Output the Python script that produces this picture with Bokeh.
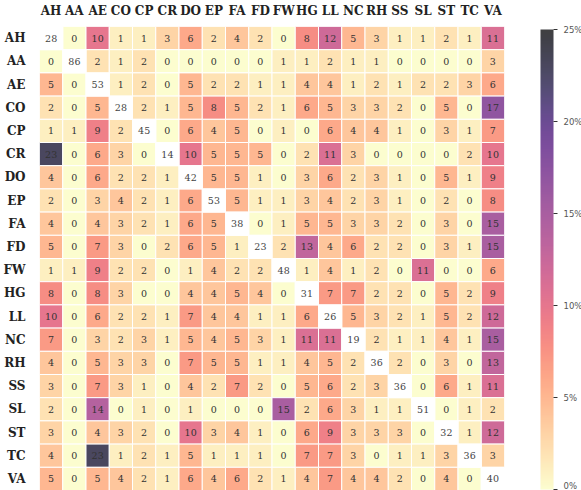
from bokeh.plotting import figure
from bokeh.models import ColumnDataSource, LinearColorMapper, ColorBar, FixedTicker, PrintfTickFormatter
from bokeh.palettes import magma
from bokeh.core.properties import value
from bokeh.embed import file_html
from bokeh.resources import INLINE

labels = ["AH", "AA", "AE", "CO", "CP", "CR", "DO", "EP", "FA", "FD",
          "FW", "HG", "LL", "NC", "RH", "SS", "SL", "ST", "TC", "VA"]

row_AH = [28, 0, 10, 1, 1, 3, 6, 2, 4, 2, 0, 8, 12, 5, 3, 1, 1, 2, 1, 11]
row_AA = [0, 86, 2, 1, 2, 0, 0, 0, 0, 0, 1, 1, 2, 1, 1, 0, 0, 0, 0, 3]
row_AE = [5, 0, 53, 1, 2, 0, 5, 2, 2, 1, 1, 4, 4, 1, 2, 1, 2, 2, 3, 6]
row_CO = [2, 0, 5, 28, 2, 1, 5, 8, 5, 2, 1, 6, 5, 3, 3, 2, 0, 5, 0, 17]
row_CP = [1, 1, 9, 2, 45, 0, 6, 4, 5, 0, 1, 0, 6, 4, 4, 1, 0, 3, 1, 7]
row_CR = [23, 0, 6, 3, 0, 14, 10, 5, 5, 5, 0, 2, 11, 3, 0, 0, 0, 0, 2, 10]
row_DO = [4, 0, 6, 2, 2, 1, 42, 5, 5, 1, 0, 3, 6, 2, 3, 1, 0, 5, 1, 9]
row_EP = [2, 0, 3, 4, 2, 1, 6, 53, 5, 1, 1, 3, 4, 2, 3, 1, 0, 2, 0, 8]
row_FA = [4, 0, 4, 3, 2, 1, 6, 5, 38, 0, 1, 5, 5, 3, 3, 2, 0, 3, 0, 15]
row_FD = [5, 0, 7, 3, 0, 2, 6, 5, 1, 23, 2, 13, 4, 6, 2, 2, 0, 3, 1, 15]
row_FW = [1, 1, 9, 2, 2, 0, 1, 4, 2, 2, 48, 1, 4, 1, 2, 0, 11, 0, 0, 6]
row_HG = [8, 0, 8, 3, 0, 0, 4, 4, 5, 4, 0, 31, 7, 7, 2, 2, 0, 5, 2, 9]
row_LL = [10, 0, 6, 2, 2, 1, 7, 4, 4, 1, 1, 6, 26, 5, 3, 2, 1, 5, 2, 12]
row_NC = [7, 0, 3, 2, 3, 1, 5, 4, 5, 3, 1, 11, 11, 19, 2, 1, 1, 4, 1, 15]
row_RH = [4, 0, 5, 3, 3, 0, 7, 5, 5, 1, 1, 4, 5, 2, 36, 2, 0, 3, 0, 13]
row_SS = [3, 0, 7, 3, 1, 0, 4, 2, 7, 2, 0, 5, 6, 2, 3, 36, 0, 6, 1, 11]
row_SL = [2, 0, 14, 0, 1, 0, 1, 0, 0, 0, 15, 2, 6, 3, 1, 1, 51, 0, 1, 2]
row_ST = [3, 0, 4, 3, 2, 0, 10, 3, 4, 1, 0, 6, 9, 3, 3, 3, 0, 32, 1, 12]
row_TC = [4, 0, 23, 1, 2, 1, 5, 1, 1, 1, 0, 7, 7, 3, 0, 1, 1, 3, 36, 3]
row_VA = [5, 0, 5, 4, 2, 1, 6, 4, 6, 2, 1, 4, 7, 4, 4, 2, 0, 4, 0, 40]

rows = [row_AH, row_AA, row_AE, row_CO, row_CP, row_CR, row_DO, row_EP, row_FA, row_FD,
        row_FW, row_HG, row_LL, row_NC, row_RH, row_SS, row_SL, row_ST, row_TC, row_VA]

cb_ticks = [0, 5, 10, 15, 20, 25]

# magma_r blended with white (alpha ~0.75)
def blend(h, a=0.75):
    r, g, b = int(h[1:3], 16), int(h[3:5], 16), int(h[5:7], 16)
    r = round(a * r + (1 - a) * 255)
    g = round(a * g + (1 - a) * 255)
    b = round(a * b + (1 - a) * 255)
    return "#%02x%02x%02x" % (r, g, b)

palette = [blend(c) for c in reversed(magma(256))]
mapper = LinearColorMapper(palette=palette, low=0, high=25)

xs, ys, vals, txt = [], [], [], []
dx, dy, dtxt = [], [], []
for i, rname in enumerate(labels):
    for j, cname in enumerate(labels):
        v = rows[i][j]
        if i == j:
            dx.append(cname); dy.append(rname); dtxt.append(str(v))
        else:
            xs.append(cname); ys.append(rname); vals.append(v); txt.append(str(v))

src = ColumnDataSource(dict(x=xs, y=ys, v=vals, t=txt))
dsrc = ColumnDataSource(dict(x=dx, y=dy, t=dtxt))

p = figure(frame_width=465, frame_height=464, x_range=labels, y_range=list(reversed(labels)),
           x_axis_location="above", output_backend="svg", toolbar_location=None,
           min_border_left=32, min_border_top=0, min_border_bottom=0, min_border_right=68)

p.rect(x="x", y="y", width=1, height=1, source=src,
       fill_color={"field": "v", "transform": mapper}, line_color="white", line_width=1)
p.rect(x="x", y="y", width=1, height=1, source=dsrc,
       fill_color="white", line_color="white", line_width=1)

p.text(x="x", y="y", text="t", source=src, text_align="center", text_baseline="middle",
       text_font=value("DejaVu Serif"), text_font_size="9.5px", text_color="#333333")
p.text(x="x", y="y", text="t", source=dsrc, text_align="center", text_baseline="middle",
       text_font=value("DejaVu Serif"), text_font_size="9.5px", text_color="#444444")

for ax in (p.xaxis[0], p.yaxis[0]):
    ax.axis_line_color = None
    ax.major_tick_line_color = None
    ax.minor_tick_line_color = None
    ax.major_label_text_font = "DejaVu Serif"
    ax.major_label_text_font_style = "bold"
    ax.major_label_text_font_size = "12px"
    ax.major_label_text_color = "#222222"
p.xaxis.major_label_standoff = 3
p.yaxis.major_label_standoff = 8

p.grid.visible = False
p.outline_line_color = None

cb = ColorBar(color_mapper=mapper, width=13, height=460, padding=0, margin=0,
              ticker=FixedTicker(ticks=cb_ticks),
              formatter=PrintfTickFormatter(format="%d%%"),
              major_tick_in=0, major_tick_out=4, major_tick_line_color="#333333",
              label_standoff=6, major_label_text_font_size="8.5px",
              major_label_text_color="#555555", major_label_text_font="DejaVu Sans",
              bar_line_color=None, border_line_color=None, background_fill_alpha=0,
              location=(36, 1))
p.add_layout(cb, "right")

open("out.html", "w").write(file_html(p, INLINE))
